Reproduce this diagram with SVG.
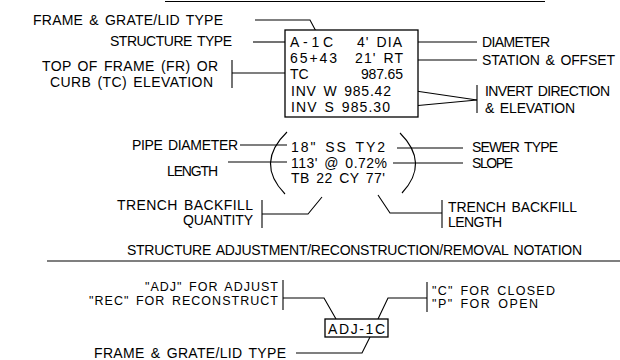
<svg xmlns="http://www.w3.org/2000/svg" width="620" height="360" viewBox="0 0 620 360">
<style>
text{font-family:"Liberation Sans",Arial,sans-serif;font-size:14px;fill:#000;word-spacing:2px}
.s{font-size:12.5px}
.c{stroke:#000;stroke-width:1.1;fill:none}
.b{stroke:#000;stroke-width:1.3;fill:#fff}
</style>
<rect width="620" height="360" fill="#fff"/>
<g id="connectors">
<line class="c" x1="165" y1="1.5" x2="545" y2="1.5"/>
<polyline class="c" points="255,20 310,20 318,35"/>
<line class="c" x1="253" y1="42" x2="285" y2="42"/>
<line class="c" x1="232" y1="60" x2="232" y2="88"/>
<line class="c" x1="232" y1="73" x2="285" y2="73"/>
<line class="c" x1="407" y1="42" x2="477" y2="42"/>
<line class="c" x1="407" y1="60" x2="477" y2="60"/>
<line class="c" x1="402" y1="89" x2="477" y2="100"/>
<line class="c" x1="402" y1="107" x2="477" y2="100"/>
<line class="c" x1="477" y1="85" x2="477" y2="113"/>
<line class="c" x1="240" y1="145" x2="287" y2="145"/>
<line class="c" x1="228" y1="162" x2="287" y2="162"/>
<path class="c" d="M287,132 Q255,163 285,194"/>
<path class="c" d="M400,133 Q430,163 402,193"/>
<line class="c" x1="397" y1="148" x2="463" y2="148"/>
<line class="c" x1="393" y1="163" x2="463" y2="163"/>
<line class="c" x1="262" y1="200" x2="262" y2="228"/>
<polyline class="c" points="262,214 308,214 322,197"/>
<polyline class="c" points="378,195 390,213 442,213"/>
<line class="c" x1="442" y1="200" x2="442" y2="228"/>
<line class="c" x1="47" y1="261" x2="620" y2="261"/>
<line class="c" x1="283" y1="280" x2="283" y2="310"/>
<polyline class="c" points="283,298 324,298 336,319"/>
<polyline class="c" points="378,319 388,298 427,298"/>
<line class="c" x1="427" y1="282" x2="427" y2="312"/>
<polyline class="c" points="296,353 362,353 370,337"/>
</g>
<g id="label-frame-grate">
<text x="33" y="25" textLength="190">FRAME &amp; GRATE/LID TYPE</text>
</g>
<g id="label-structure-type">
<text x="110" y="46" textLength="122">STRUCTURE TYPE</text>
</g>
<g id="label-top-of-frame">
<text x="42" y="71" textLength="176">TOP OF FRAME (FR) OR</text>
<text x="50" y="87" textLength="163">CURB (TC) ELEVATION</text>
</g>
<g id="structure-box">
<rect class="b" x="285" y="30" width="133" height="87"/>
<text x="290" y="47" textLength="43">A-1C</text>
<text x="357" y="47" textLength="45">4' DIA</text>
<text x="290" y="63" textLength="47">65+43</text>
<text x="355" y="63" textLength="48">21' RT</text>
<text x="290" y="79">TC</text>
<text x="361" y="79" textLength="42">987.65</text>
<text x="291" y="96" textLength="100">INV W 985.42</text>
<text x="291" y="112" textLength="99">INV S 985.30</text>
</g>
<g id="label-diameter">
<text x="482" y="47" textLength="68">DIAMETER</text>
</g>
<g id="label-station">
<text x="482" y="65" textLength="133">STATION &amp; OFFSET</text>
</g>
<g id="label-invert">
<text x="485" y="96" textLength="125">INVERT DIRECTION</text>
<text x="485" y="113" textLength="90">&amp; ELEVATION</text>
</g>
<g id="label-pipe-diameter">
<text x="132" y="150" textLength="106">PIPE DIAMETER</text>
</g>
<g id="label-length">
<text x="167" y="176" textLength="51">LENGTH</text>
</g>
<g id="pipe-notation">
<text x="291" y="152" textLength="94">18" SS  TY2</text>
<text x="291" y="168" textLength="96">113' @ 0.72%</text>
<text x="291" y="183" textLength="94">TB 22 CY 77'</text>
</g>
<g id="label-sewer-type">
<text x="472" y="152" textLength="86">SEWER TYPE</text>
</g>
<g id="label-slope">
<text x="472" y="168" textLength="41">SLOPE</text>
</g>
<g id="label-backfill-quantity">
<text x="117" y="210" textLength="136">TRENCH BACKFILL</text>
<text x="183" y="225" textLength="70">QUANTITY</text>
</g>
<g id="label-backfill-length">
<text x="448" y="212" textLength="129">TRENCH BACKFILL</text>
<text x="448" y="227" textLength="54">LENGTH</text>
</g>
<g id="heading-adjustment">
<text x="127" y="255" textLength="455">STRUCTURE ADJUSTMENT/RECONSTRUCTION/REMOVAL NOTATION</text>
</g>
<g id="label-adj-rec">
<text class="s" x="145" y="291" textLength="133">"ADJ" FOR ADJUST</text>
<text class="s" x="89" y="304.5" textLength="189">"REC" FOR RECONSTRUCT</text>
</g>
<g id="adj-box">
<rect class="b" x="325" y="319" width="63" height="18"/>
<text x="328" y="334" textLength="57">ADJ-1C</text>
</g>
<g id="label-closed-open">
<text class="s" x="432" y="294.5" textLength="123">"C" FOR CLOSED</text>
<text class="s" x="432" y="308" textLength="106">"P" FOR OPEN</text>
</g>
<g id="label-frame-grate-2">
<text x="94" y="358" textLength="192">FRAME &amp; GRATE/LID TYPE</text>
</g>
</svg>
